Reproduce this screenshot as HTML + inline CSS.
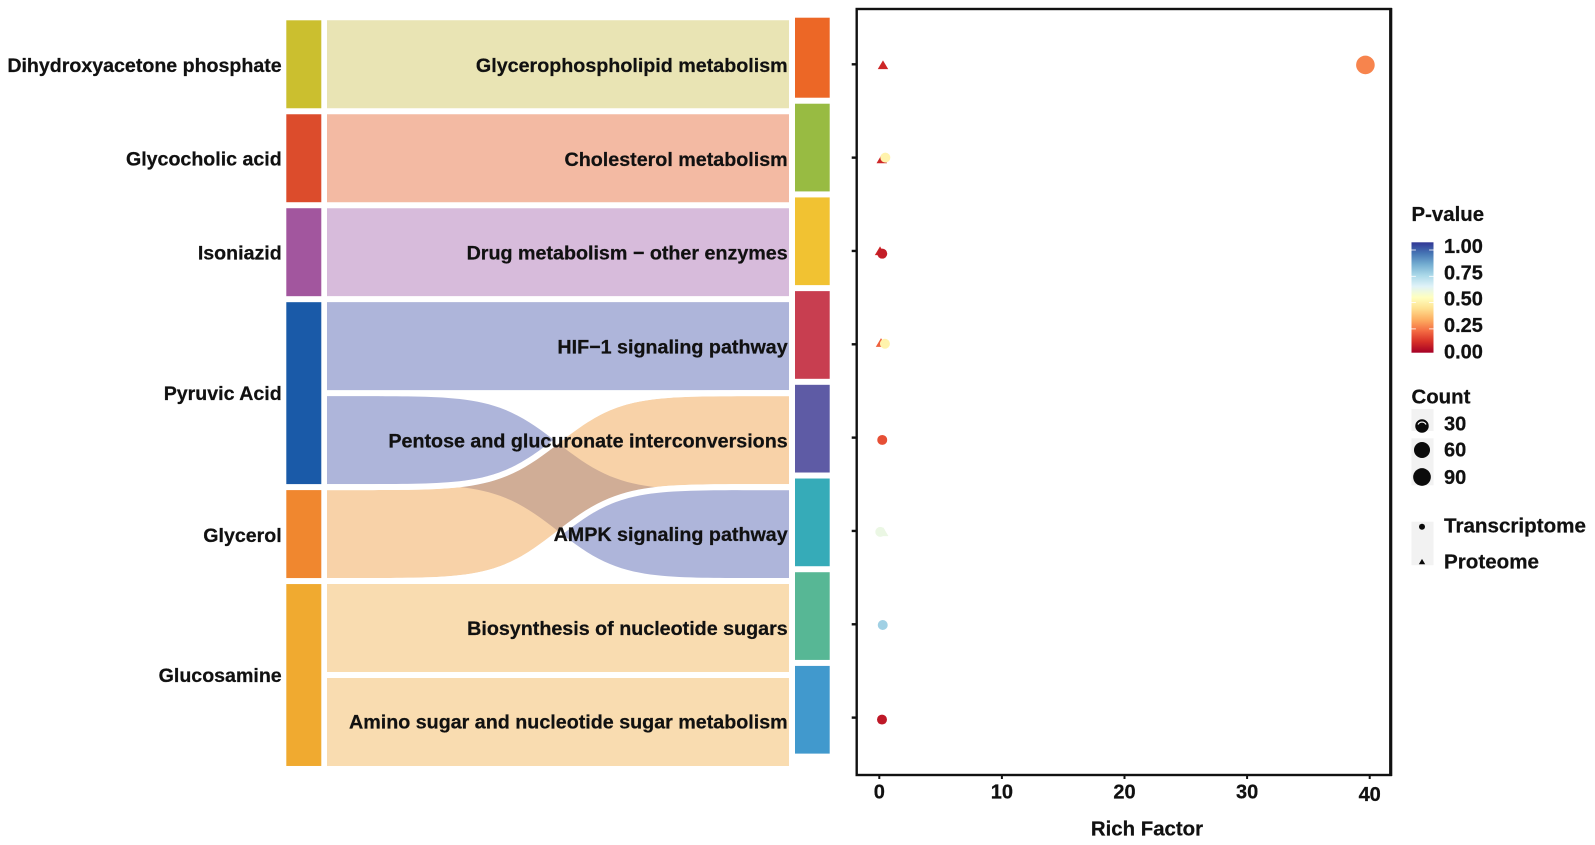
<!DOCTYPE html>
<html lang="en">
<head>
<meta charset="utf-8">
<title>Metabolite pathway alluvial and rich factor chart</title>
<style>
html,body{margin:0;padding:0;background:#fff;}
#chart{display:block;width:1595px;height:845px;}
text{font-family:"Liberation Sans",Arial,sans-serif;font-weight:bold;fill:#111;stroke:#111;stroke-width:.25px;}
</style>
</head>
<body>
<svg id="chart" xmlns="http://www.w3.org/2000/svg" width="1595" height="845" viewBox="0 0 1595 845">
  <rect x="0" y="0" width="1595" height="845" fill="#fff"/>
  <g id="sankey"></g>
  <g id="dotplot"></g>
  <g id="legend"></g>
</svg>
<script>
// ---------- Alluvial data ----------
const metabolites = ["Dihydroxyacetone phosphate", "Glycocholic acid", "Isoniazid", "Pyruvic Acid", "Glycerol", "Glucosamine"];
const pathways = ["Glycerophospholipid metabolism", "Cholesterol metabolism", "Drug metabolism \u2212 other enzymes", "HIF\u22121 signaling pathway", "Pentose and glucuronate interconversions", "AMPK signaling pathway", "Biosynthesis of nucleotide sugars", "Amino sugar and nucleotide sugar metabolism"];
const linkSource = [0, 1, 2, 3, 3, 4, 5, 5];
const linkTarget = [0, 1, 2, 3, 5, 4, 6, 7];
const linkValue = [1, 1, 1, 1, 1, 1, 1, 1];
const pathwayWeights = [0.918, 1, 1, 1, 1, 1, 1, 1];
const metaboliteColors = ["#cbbf2f", "#dc4c2c", "#a2569e", "#1a5aa8", "#f0872f", "#f0aa30"];
const pathwayColors = ["#ec6726", "#98bb42", "#f1c232", "#c83e50", "#5e5ba5", "#36abb8", "#57b795", "#4199cd"];
const flowColors = ["#d3c969", "#e77547", "#af77b7", "#5d6bb5", "#f1a551", "#f3b961"];

// ---------- Dot plot data ----------
const xTicks = [0, 10, 20, 30, 40];
const richTranscriptome = [39.65, 0.49, 0.24, 0.46, 0.24, 0.08, 0.28, 0.22];
const richProteome = [0.30, 0.20, 0.06, 0.14, null, 0.32, null, null];
const rowJitter = [0.007, 0.0, 0.029, -0.006, 0.025, 0.01, 0.008, 0.021];
const proteomeJitter = [0.007, 0.015, 0, -0.017, 0, 0.01, 0, 0];
const pTranscriptome = [0.235, 0.46, 0.06, 0.46, 0.15, 0.565, 0.72, 0.05];
const pProteome = [0.08, 0.08, 0.08, 0.18, null, 0.565, null, null];
const countTranscriptome = [100, 1, 1, 1, 1, 1, 1, 1];
const countProteome = [1, 1, 1, 1, null, 1, null, null];
const colorStops = ["#A50026", "#D73027", "#F46D43", "#FDAE61", "#FEE090", "#FFFFBF", "#E0F3F8", "#ABD9E9", "#74ADD1", "#4575B4", "#313695"];
const pLegendTicks = [1, 0.75, 0.5, 0.25, 0];
const countLegend = [30, 60, 90];

const NS = "http://www.w3.org/2000/svg";
function el(tag, attrs, parent) {
  const e = document.createElementNS(NS, tag);
  for (const k in attrs) e.setAttribute(k, attrs[k]);
  parent.appendChild(e);
  return e;
}
function label(str, x, cy, anchor, size, parent) {
  const t = el("text", {x: x, y: cy + size * 0.36, "text-anchor": anchor, "font-size": size}, parent);
  t.textContent = str;
  return t;
}
function slug(s) { return s.toLowerCase().replace(/[^a-z0-9]+/g, "-").replace(/^-|-$/g, ""); }

// ---------- Alluvial layout ----------
const sankey = document.getElementById("sankey");
const UNIT = 93.96, RIGHT_UNIT = 93.7, GAP = 6, LEFT_TOP = 17.3, RIGHT_TOP = 14.7;
const stratL = {x0: 286.3, x1: 321.3}, flowX = {x0: 327, x1: 789}, stratR = {x0: 795, x1: 829.7};
const LABEL_L = 281.7, LABEL_R = 787.7;
const SIG_POWER = 3.8, SIG_STEPS = 80;

const metaWeights = metabolites.map((_, i) => linkSource.reduce((s, src, k) => s + (src === i ? linkValue[k] : 0), 0));
let acc = LEFT_TOP;
const metaTop = metaWeights.map(w => { const y = acc; acc += w * UNIT; return y; });
acc = RIGHT_TOP;
const pathTop = pathwayWeights.map(w => { const y = acc; acc += w * RIGHT_UNIT; return y; });

metabolites.forEach((name, i) => {
  const top = metaTop[i], h = metaWeights[i] * UNIT;
  const r = el("rect", {x: stratL.x0, y: top + GAP / 2, width: stratL.x1 - stratL.x0, height: h - GAP, fill: metaboliteColors[i]}, sankey);
  
  
});
pathways.forEach((name, i) => {
  const top = pathTop[i], h = pathwayWeights[i] * RIGHT_UNIT;
  const r = el("rect", {x: stratR.x0, y: top + GAP / 2, width: stratR.x1 - stratR.x0, height: h - GAP, fill: pathwayColors[i]}, sankey);
  
  
});

const leftCursor = metaTop.slice();
const flows = linkSource.map((s, k) => {
  const yL = leftCursor[s];
  leftCursor[s] += linkValue[k] * UNIT;
  return {s: s, t: linkTarget[k], yL: yL, yR: LEFT_TOP + linkTarget[k] * UNIT};
});

function sigmoid(u) {
  const a = Math.pow(u, SIG_POWER), b = Math.pow(1 - u, SIG_POWER);
  return a / (a + b);
}
function edgePoints(yA, yB) {
  const pts = [];
  for (let i = 0; i <= SIG_STEPS; i++) {
    const u = i / SIG_STEPS;
    pts.push((flowX.x0 + u * (flowX.x1 - flowX.x0)).toFixed(2) + " " + (yA + (yB - yA) * sigmoid(u)).toFixed(2));
  }
  return pts;
}
flows.forEach(f => {
  const g = GAP / 2;
  const top = edgePoints(f.yL + g, f.yR + g);
  const bottom = edgePoints(f.yL + UNIT - g, f.yR + UNIT - g).reverse();
  const p = el("path", {d: "M" + top.join(" L") + " L" + bottom.join(" L") + " Z", fill: flowColors[f.s], "fill-opacity": 0.5}, sankey);
  
  
});
flows.filter(f => f.yL - f.yR > 1).forEach(f => {
  [0, UNIT].forEach(off => {
    const line = el("path", {d: "M" + edgePoints(f.yL + off, f.yR + off).join(" L"), fill: "none", stroke: "#fff", "stroke-width": GAP}, sankey);
    
    
  });
});

metabolites.forEach((name, i) => {
  const t = label(name, LABEL_L, metaTop[i] + metaWeights[i] * UNIT / 2 + (i === 0 || i === 4 ? 0.7 : 0), "end", 19.6, sankey);
  
  
});
pathways.forEach((name, i) => {
  const t = label(name, LABEL_R, 65.0 + i * 93.8, "end", 19.7, sankey);
  
  
});

// ---------- Dot plot ----------
const plot = document.getElementById("dotplot");
const P = {l: 856.7, r: 1390.7, t: 9, b: 775};
const xScale = v => 879.3 + v * 12.26;
const yScale = row => 64.3 + row * 93.33;
const sizeScale = c => 4.5 + 0.48 * Math.sqrt(c);
function hexRgb(h) { return [1, 3, 5].map(i => parseInt(h.substr(i, 2), 16)); }
function colorScale(p) {
  const pos = Math.max(0, Math.min(1, p)) * (colorStops.length - 1);
  const i = Math.min(colorStops.length - 2, Math.floor(pos)), f = pos - i;
  const a = hexRgb(colorStops[i]), b = hexRgb(colorStops[i + 1]);
  return "rgb(" + a.map((v, k) => Math.round(v + (b[k] - v) * f)).join(",") + ")";
}
function triPoints(x, y, s) {
  return (x - s) + "," + (y + s * 0.8) + " " + (x + s) + "," + (y + s * 0.8) + " " + x + "," + (y - s * 0.87);
}

const panel = el("rect", {x: P.l, y: P.t, width: P.r - P.l, height: P.b - P.t, fill: "#fff", stroke: "#111", "stroke-width": 2.4}, plot);


const rightEdge = el("line", {x1: P.r, x2: P.r, y1: P.t - 1, y2: P.b + 1, stroke: "#111", "stroke-width": 3.2}, plot);



pathways.forEach((name, i) => {
  const tick = el("line", {x1: P.l - 5, x2: P.l, y1: yScale(i), y2: yScale(i), stroke: "#111", "stroke-width": 2.4}, plot);
  
  
});
xTicks.forEach(v => {
  const tick = el("line", {x1: xScale(v), x2: xScale(v), y1: P.b, y2: P.b + 4, stroke: "#111", "stroke-width": 2}, plot);
  
  
  const t = label(String(v), xScale(v), v === 40 ? 794 : 791.5, "middle", 20, plot);
  
  
});
const xTitle = label("Rich Factor", 1147, 828, "middle", 20.4, plot);



pathways.forEach((name, i) => {
  if (richProteome[i] === null) return;
  const tri = el("polygon", {points: triPoints(xScale(richProteome[i]), yScale(i + proteomeJitter[i]), sizeScale(countProteome[i]) * 1.05), fill: colorScale(pProteome[i])}, plot);
  
  
});
pathways.forEach((name, i) => {
  const c = el("circle", {cx: xScale(richTranscriptome[i]), cy: yScale(i + rowJitter[i]), r: sizeScale(countTranscriptome[i]), fill: colorScale(pTranscriptome[i])}, plot);
  
  
});

// ---------- Legends ----------
const lg = document.getElementById("legend");
const LX = 1411.5, LTX = 1444;
const pTitle = label("P-value", LX, 213.5, "start", 20.4, lg);



const defs = el("defs", {}, lg);
const grad = el("linearGradient", {id: "pgrad", x1: 0, y1: 1, x2: 0, y2: 0}, defs);
colorStops.forEach((c, i) => {
  el("stop", {offset: (i / (colorStops.length - 1)), "stop-color": c}, grad);
});
const bar = el("rect", {x: LX, y: 242.3, width: 22, height: 110.4, fill: "url(#pgrad)"}, lg);


pLegendTicks.forEach((v, i) => {
  if (v > 0) {
    const y = 250 + (1 - v) * 105.2;
    const a = el("line", {x1: LX, x2: LX + 4.4, y1: y, y2: y, stroke: "#fff", "stroke-width": 0.8}, lg);
    
    
    const b = el("line", {x1: LX + 17.6, x2: LX + 22, y1: y, y2: y, stroke: "#fff", "stroke-width": 0.8}, lg);
    
    
  }
  const t = label(v.toFixed(2), LTX, 245.7 + (1 - v) * 105.6, "start", 20, lg);
  
  
});

const cTitle = label("Count", LX, 396, "start", 20.4, lg);


const countBg1 = el("rect", {x: LX, y: 409, width: 22, height: 22, fill: "#f2f2f2"}, lg);


const countBg2 = el("rect", {x: LX, y: 438.3, width: 22, height: 47, fill: "#f2f2f2"}, lg);


const countY = [426, 450, 477];
const countLabelY = [423.5, 449.3, 476.7];
countLegend.forEach((v, i) => {
  const c = el("circle", {cx: LX + 10.5, cy: countY[i], r: sizeScale(v) - (i === 0 ? 0.4 : 0.2), fill: "#0b0b0b"}, lg);
  
  
  if (i === 0) {
    const arc = el("path", {d: "M" + (LX + 6.5) + " " + (countY[0] - 1.5) + " A4.5 4.5 0 0 1 " + (LX + 14.5) + " " + (countY[0] - 1.5), fill: "none", stroke: "#fff", "stroke-width": 1.2}, lg);
    
    
  }
  const t = label(String(v), LTX, countLabelY[i], "start", 20, lg);
  
  
});

const shapeBg = el("rect", {x: LX, y: 521.7, width: 22, height: 43.5, fill: "#f2f2f2"}, lg);


const keyDot = el("circle", {cx: LX + 10.5, cy: 526.7, r: 3, fill: "#0b0b0b"}, lg);


const keyTri = el("polygon", {points: triPoints(LX + 10.5, 561.7, 3.2), fill: "#0b0b0b"}, lg);


const tLabel = label("Transcriptome", LTX, 525, "start", 20.6, lg);


const pLabel = label("Proteome", LTX, 561, "start", 20.6, lg);


</script>
</body>
</html>
